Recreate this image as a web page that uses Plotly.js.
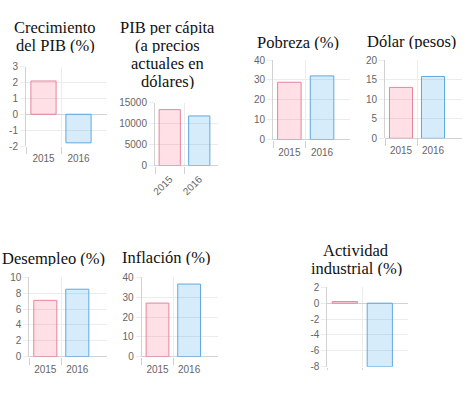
<!DOCTYPE html>
<html><head><meta charset="utf-8">
<script src="https://cdn.plot.ly/plotly-3.0.1.min.js"></script>
<style>html,body{margin:0;padding:0;background:#fff}</style>
</head><body><div id="chart" style="width:474px;height:393px"></div>
<script>
// ---- data ----
const years = ['2015', '2016'];
const crecimientoPIB = [2.1, -1.8];
const pibPerCapita = [13300, 11800];
const pobreza = [28.8, 32.0];
const dolar = [13.0, 15.8];
const desempleo = [7.1, 8.5];
const inflacion = [27.0, 36.6];
const actividadIndustrial = [0.2, -8.0];

const tituloCrecimiento = ['Crecimiento', 'del PIB (%)'];
const tituloPIBpc = ['PIB per cápita', '(a precios', 'actuales en', 'dólares)'];
const tituloPobreza = ['Pobreza (%)'];
const tituloDolar = ['Dólar (pesos)'];
const tituloDesempleo = ['Desempleo (%)'];
const tituloInflacion = ['Inflación (%)'];
const tituloActividad = ['Actividad', 'industrial (%)'];

// ---- layout (pixel positions) ----
const W = 474, H = 393;
const panels = [
  {v: crecimientoPIB, t: tituloCrecimiento, tx: 55, ty: [27, 45], left: 26, mid: 61, right: 107, top: 66.7, bottom: 146, yr: [-2, 3], dt: 1, ang: 0, showX: true},
  {v: pibPerCapita, t: tituloPIBpc, tx: 167, ty: [27, 45, 63, 81], left: 155, mid: 184.5, right: 218, top: 102.5, bottom: 165.5, yr: [0, 15000], dt: 5000, ang: -45, showX: true},
  {v: pobreza, t: tituloPobreza, tx: 298, ty: [42], left: 273, mid: 305.7, right: 350, top: 60, bottom: 139.5, yr: [0, 40], dt: 10, ang: 0, showX: true},
  {v: dolar, t: tituloDolar, tx: 411, ty: [41], left: 385, mid: 417, right: 461.7, top: 60, bottom: 138.3, yr: [0, 20], dt: 5, ang: 0, showX: true},
  {v: desempleo, t: tituloDesempleo, tx: 53, ty: [258], left: 29.3, mid: 61.3, right: 106.7, top: 277.3, bottom: 356.7, yr: [0, 10], dt: 2, ang: 0, showX: true},
  {v: inflacion, t: tituloInflacion, tx: 166, ty: [257], left: 141.7, mid: 173.3, right: 218, top: 277.3, bottom: 356.7, yr: [0, 40], dt: 10, ang: 0, showX: true},
  {v: actividadIndustrial, t: tituloActividad, tx: 356, ty: [250, 268], left: 327.3, mid: 362.3, right: 408, top: 287.3, bottom: 366.7, yr: [-8, 2], dt: 2, ang: 0, showX: false}
];

const fills = ['rgba(255,99,132,0.2)', 'rgba(54,162,235,0.2)'];
const borders = ['rgb(232,132,157)', 'rgb(96,168,222)'];
const gridColor = '#ececec';
const axisColor = '#d2d2d2';
const tickFont = {family: 'Liberation Sans, Arial, sans-serif', size: 10, color: '#666'};

const data = [];
const layout = {
  width: W, height: H, margin: {l: 0, r: 0, t: 0, b: 0},
  paper_bgcolor: '#fff', plot_bgcolor: 'rgba(0,0,0,0)',
  showlegend: false, bargap: 0, annotations: []
};

panels.forEach((p, i) => {
  const n = i + 1;
  const xs = n === 1 ? 'x' : 'x' + n;
  const ys = n === 1 ? 'y' : 'y' + n;
  data.push({
    type: 'bar', x: [0, 1], y: p.v, width: 0.72,
    xaxis: xs, yaxis: ys,
    marker: {color: fills, line: {color: borders, width: 1}},
    hoverinfo: 'skip'
  });
  const unit = p.mid - p.left;
  const yvals = [];
  for (let t = p.yr[0]; t <= p.yr[1] + 1e-9; t += p.dt) yvals.push(t);
  layout['xaxis' + (n === 1 ? '' : n)] = {
    domain: [p.left / W, p.right / W],
    range: [-0.5, -0.5 + (p.right - p.left) / unit],
    anchor: ys,
    tickmode: 'array', tickvals: [0, 1], ticktext: p.showX ? years : ['', ''],
    tickangle: p.ang,
    ticks: 'outside', ticklen: 3, tickcolor: 'rgba(0,0,0,0)',
    tickfont: tickFont,
    showgrid: false, zeroline: false, showline: false, fixedrange: true,
    minor: {tickmode: 'array', tickvals: [-0.5, 0.5], ticks: 'outside', ticklen: p.showX ? 7 : 2,
            tickcolor: axisColor, tickwidth: 1, showgrid: true, gridcolor: gridColor, gridwidth: 1}
  };
  layout['yaxis' + (n === 1 ? '' : n)] = {
    domain: [1 - p.bottom / H, 1 - p.top / H],
    range: p.yr,
    tickmode: 'array', tickvals: yvals, ticktext: yvals.map(v => String(v)),
    anchor: xs,
    ticks: 'outside', ticklen: 5, tickcolor: gridColor,
    tickfont: tickFont,
    showgrid: true, gridcolor: gridColor, gridwidth: 1,
    zeroline: true, zerolinecolor: axisColor, zerolinewidth: 1,
    showline: true, linecolor: axisColor, linewidth: 1, fixedrange: true
  };
  p.t.forEach((line, k) => {
    layout.annotations.push({
      text: line, xref: 'paper', yref: 'paper',
      x: p.tx / W, y: 1 - p.ty[k] / H, xanchor: 'center', yanchor: 'middle',
      height: 16, valign: 'middle',
      showarrow: false,
      font: {family: 'Liberation Serif, Times New Roman, serif', size: 16.5, color: '#111'}
    });
  });
});

Plotly.newPlot('chart', data, layout, {displayModeBar: false, staticPlot: true});
</script>
</body></html>
